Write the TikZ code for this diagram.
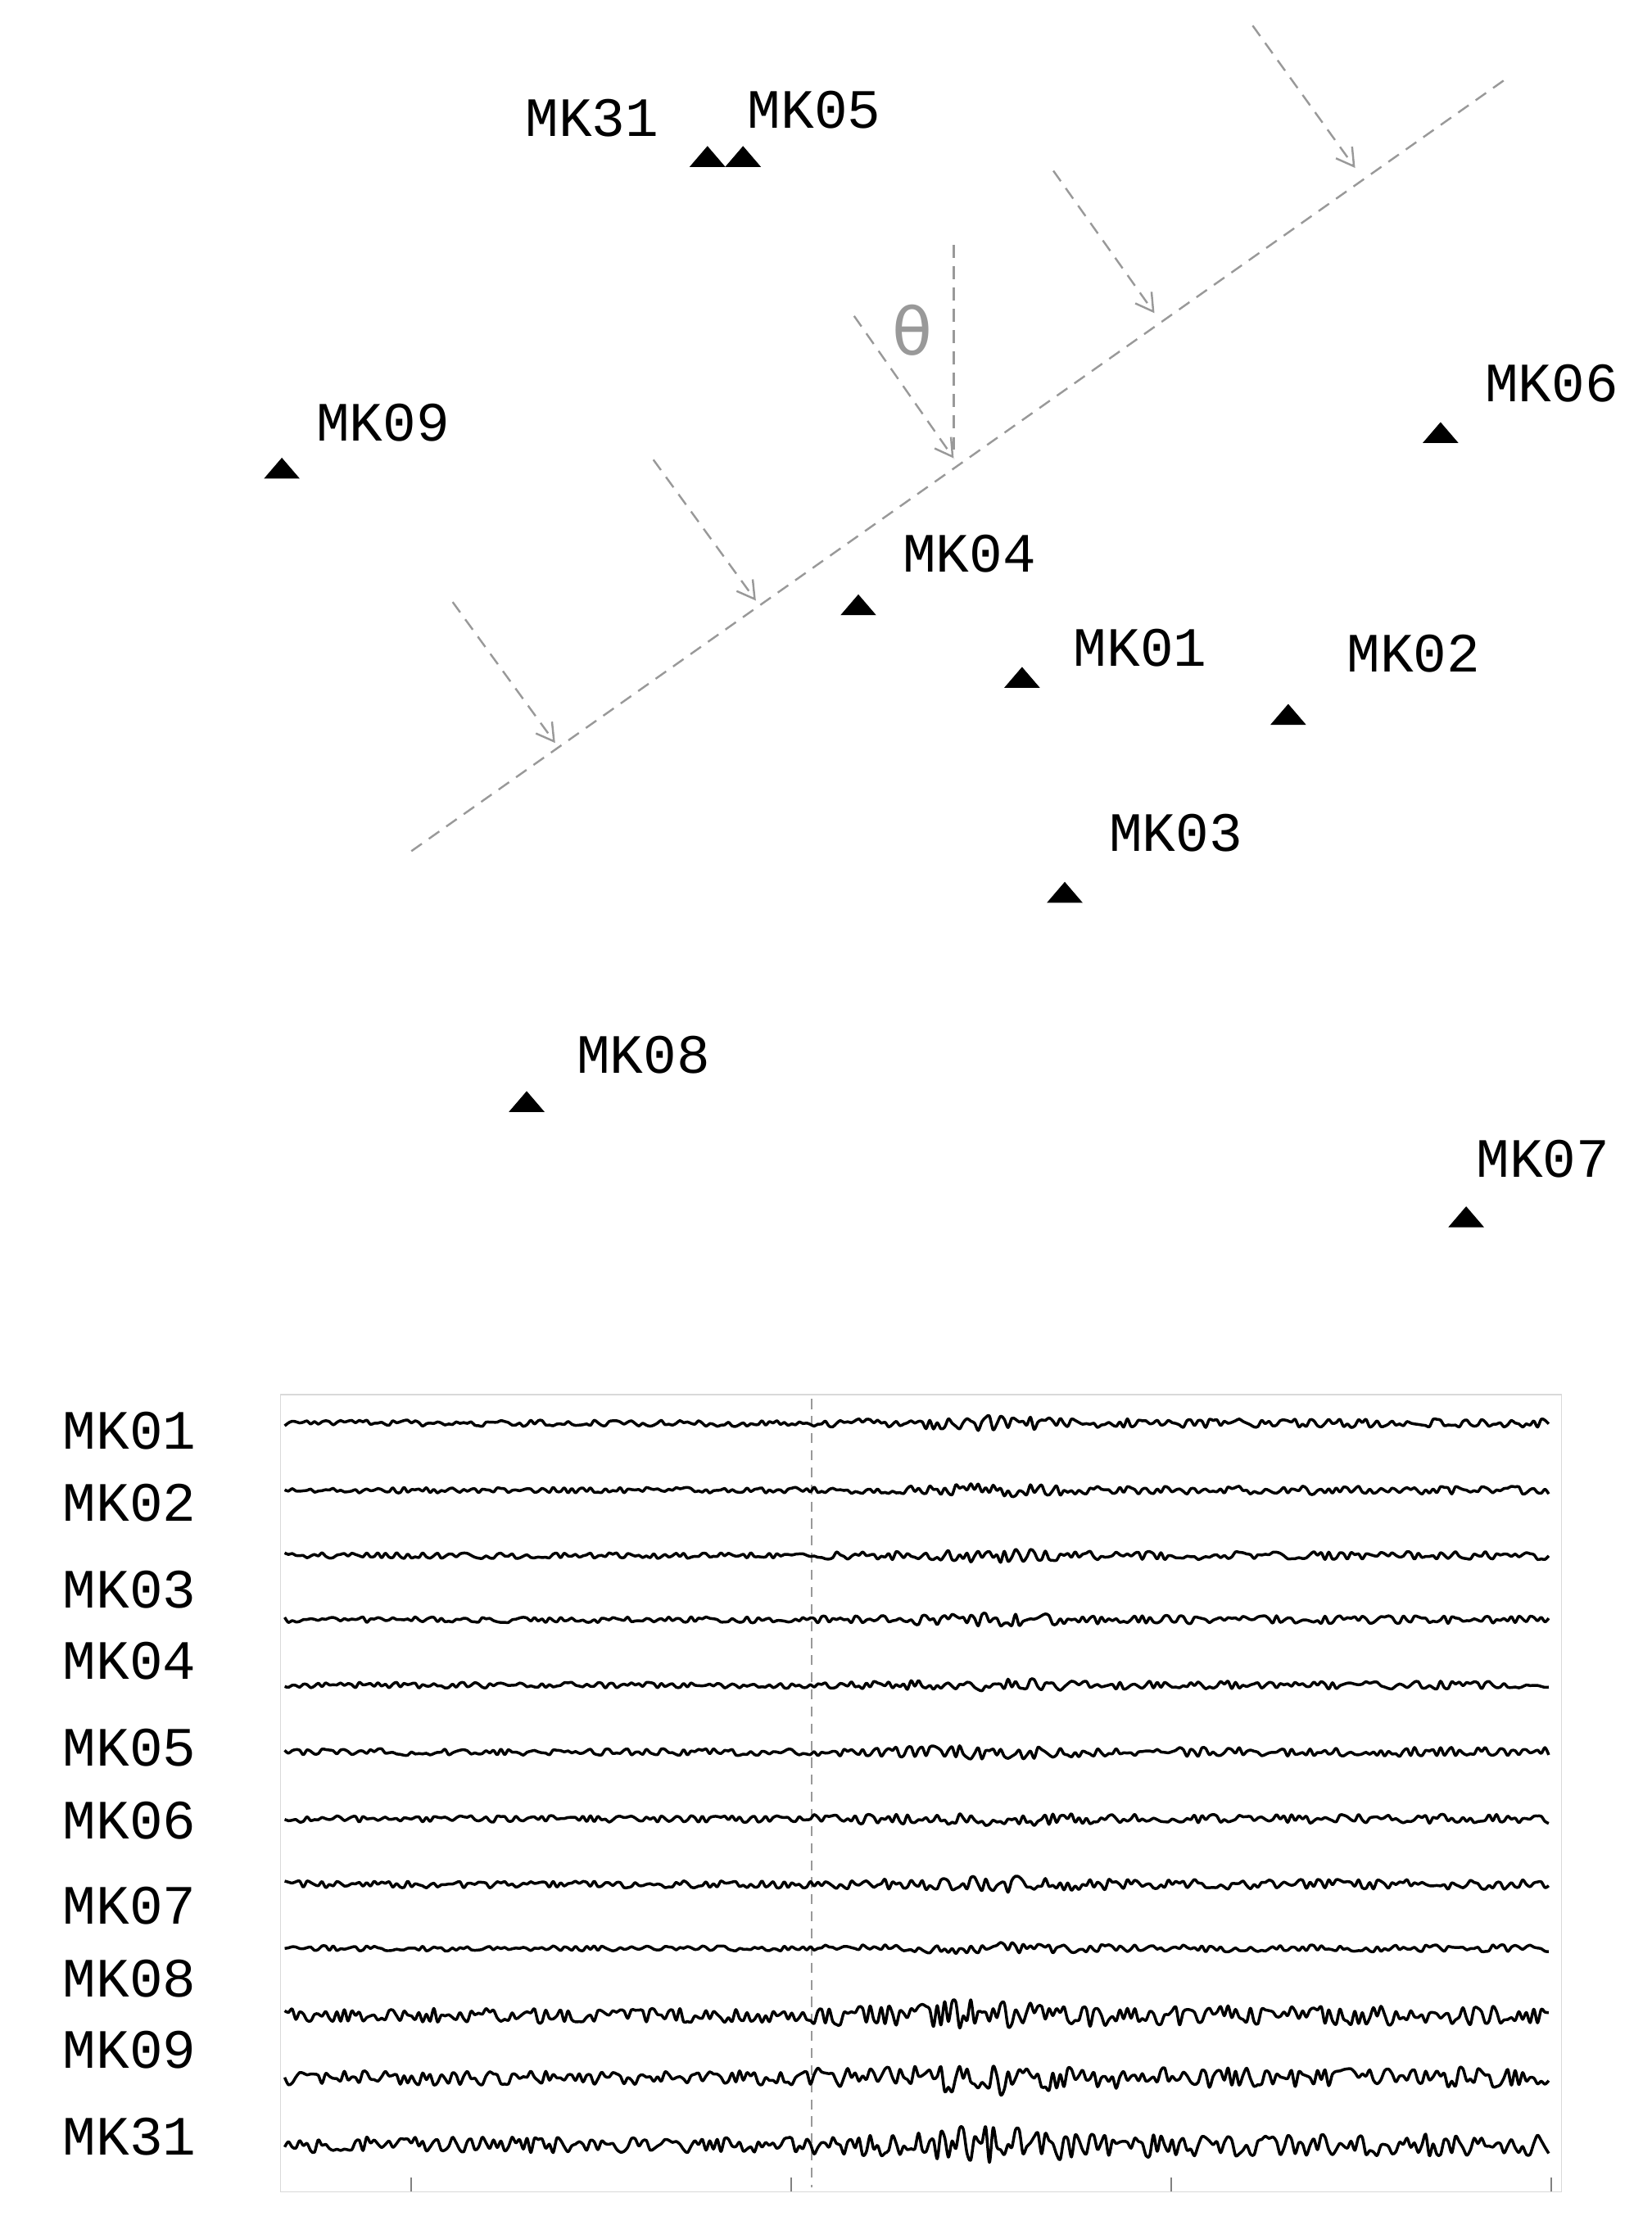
\documentclass[tikz,border=0pt]{standalone}
\usepackage{fontspec}
\setmainfont{Liberation Mono}
\newfontfamily\thetafont{DejaVu Sans}
\usetikzlibrary{arrows.meta}
\begin{document}
\begin{tikzpicture}[x=1pt,y=-1pt,
  sta/.style={fill=black,draw=black,line width=0.5pt},
  lab/.style={anchor=base west,font=\fontsize{39}{39}\selectfont,inner sep=0pt},
  gdash/.style={draw=gray!80,dashed,dash pattern=on 9pt off 6pt,line width=1.4pt},
  garrow/.style={gdash,-{Straight Barb[length=12pt,width=14pt]}},
  trace/.style={line width=2pt,line join=round}]
\useasboundingbox (0,0) rectangle (1160,1557);
% stations
\foreach \n/\x/\y/\lx/\ly in {MK05/522/117/525/90, MK09/198/336/222/310, MK06/1012/311/1043/282,
  MK04/603/432/634/402, MK01/718/483/754/468, MK02/905/509/946/472, MK03/748/634/779/598,
  MK08/370/781/405/754, MK07/1030/862/1037/827}{
  \draw[sta] (\x-12,\y) -- (\x+12,\y) -- (\x,\y-14) -- cycle;
  \node[lab] (l\n) at (\lx,\ly) {\n};
}
\draw[sta] (485,117) -- (509,117) -- (497,103) -- cycle;
\node[lab,anchor=base east] (lMK31) at (463,96) {MK31};
% wavefront
\coordinate (w1) at (289,598); \coordinate (w2) at (1060,54);
\draw[gdash] (w1) -- (w2);
\foreach \a/\b/\c/\d in {318/423/390/522, 459/323/531/422, 600/222/670/322, 740/120/811/220, 880/18/952/118}
  \draw[garrow] (\a,\b) -- (\c,\d);
\draw[gdash] (670,172) -- (670,322);
\node[text=gray!80,font=\thetafont\fontsize{46}{46}\selectfont] (th) at (641,232) {θ};
% panel
\draw[gray!30,line width=1pt] (197,980) rectangle (1097,1540);
\draw[gray!80,dashed,dash pattern=on 7pt off 5pt,line width=1.3pt] (570,983) -- (570,1537);
\foreach \t in {289,556,823,1090} \draw[gray,line width=1.2pt] (\t,1540) -- (\t,1530);
\pgfmathsetseed{4}
\foreach \y/\a in {1000/2.2,1047/2,1093/2,1138/2,1184/2,1231/2.3,1278/2.3,1324/2.5,1369/1.8,1416/5,1460/5,1507/5.5}{
  \draw[trace] plot[domain=200:1088,samples=340,smooth] (\x,{\y+\a*(1+0.4*(\x>570)+1.0*exp(-((\x-700)/50)^2))*rand});
}
\foreach \n/\y in {MK01/1006,MK02/1057,MK03/1118,MK04/1168,MK05/1229,MK06/1280,MK07/1340,MK08/1391,MK09/1441,MK31/1502}
  \node[lab,anchor=base west] (t\n) at (44,\y+12) {\n};
\end{tikzpicture}
\end{document}
